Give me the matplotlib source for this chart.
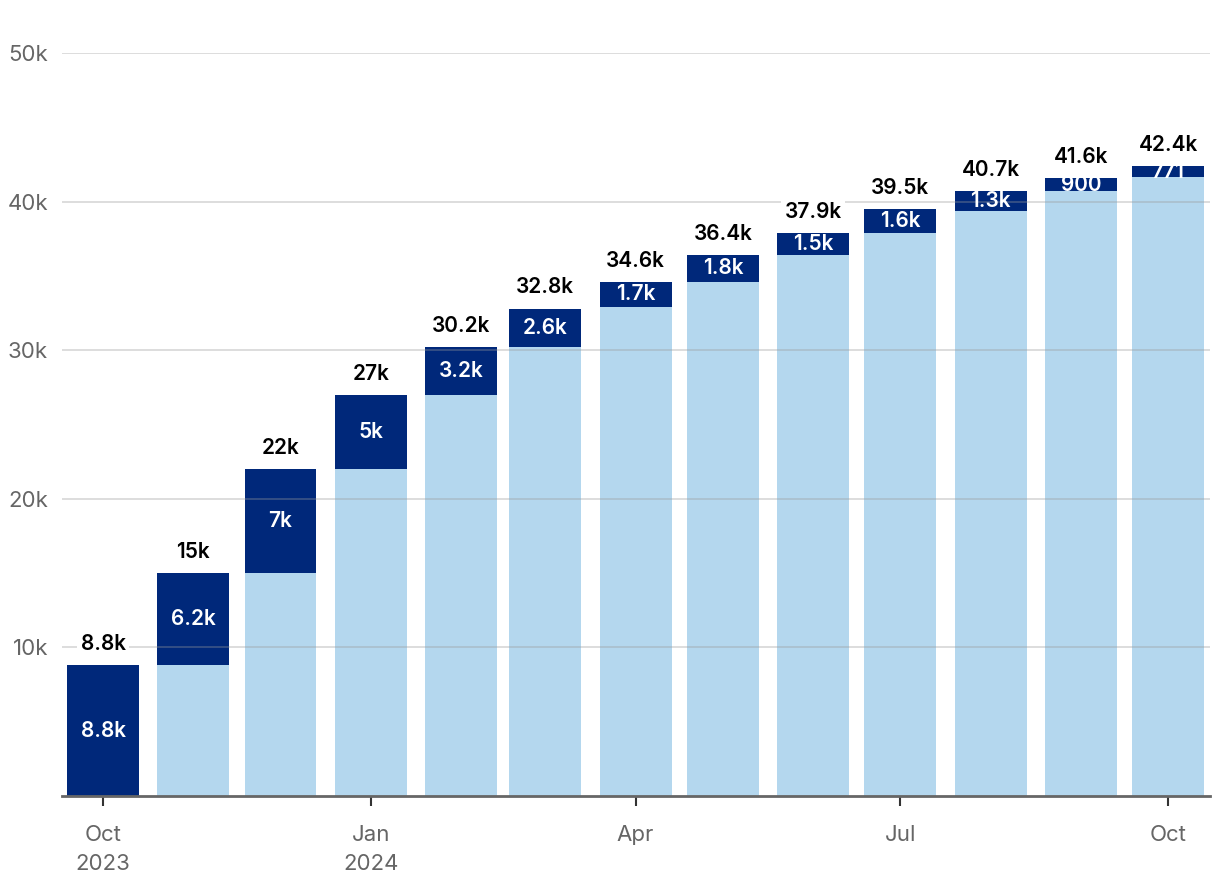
import datetime as dt

import matplotlib
matplotlib.use("Agg")
from matplotlib import pyplot as plt
import matplotlib.dates as mdates

months = ["2023-10-01", "2023-11-01", "2023-12-01", "2024-01-01", "2024-02-01",
          "2024-03-01", "2024-04-01", "2024-05-01", "2024-06-01", "2024-07-01",
          "2024-08-01", "2024-09-01", "2024-10-01"]
totals = [8800, 15000, 22000, 27000, 30200, 32800, 34600, 36400, 37900, 39500, 40700, 41600, 42400]
added = [8800, 6200, 7000, 5000, 3200, 2600, 1700, 1800, 1500, 1600, 1300, 900, 771]
total_labels = ["8.8k", "15k", "22k", "27k", "30.2k", "32.8k", "34.6k", "36.4k",
                "37.9k", "39.5k", "40.7k", "41.6k", "42.4k"]
added_labels = ["8.8k", "6.2k", "7k", "5k", "3.2k", "2.6k", "1.7k", "1.8k",
                "1.5k", "1.6k", "1.3k", "900", "771"]
tick_months = ["2023-10-01", "2024-01-01", "2024-04-01", "2024-07-01", "2024-10-01"]
tick_labels = ["Oct\n2023", "Jan\n2024", "Apr", "Jul", "Oct"]

navy = "#00287a"
light = "#b4d7ee"
grey = "#666666"

plt.rcParams["font.family"] = ["Inter", "DejaVu Sans"]

x = [mdates.date2num(dt.date.fromisoformat(m)) for m in months]
base = [t - a for t, a in zip(totals, added)]
base[0] = 0

fig = plt.figure(figsize=(12.2, 8.88), dpi=100)
ax = fig.add_axes([62 / 1220, 1 - 796 / 888, 1148 / 1220, (796 - 53) / 888])

width = 24.7
ax.bar(x[1:], base[1:], width=width, color=light, zorder=2)
ax.bar(x, added, bottom=base, width=width, color=navy, zorder=2)

for xi, b, a, lab in zip(x, base, added, added_labels):
    ax.text(xi, b + a / 2, lab, ha="center", va="center", color="white",
            fontsize=15, fontweight="semibold", zorder=4)

for xi, t, lab in zip(x, totals, total_labels):
    ax.annotate(lab, (xi, t), xytext=(0, 8), textcoords="offset points",
                ha="center", va="bottom", fontsize=15, fontweight="semibold",
                color="black", zorder=5,
                bbox=dict(boxstyle="square,pad=0.15", fc="white", ec="none"))

ax.set_xlim(x[0] - 14.1, x[-1] + 14.4)
ax.set_ylim(0, 50000)
ax.set_yticks([10000, 20000, 30000, 40000, 50000])
ax.set_yticklabels(["10k", "20k", "30k", "40k", "50k"])
ax.yaxis.grid(True, color="#999999", alpha=0.4, linewidth=1.2, zorder=3)
ax.set_axisbelow(False)

ax.set_xticks([mdates.date2num(dt.date.fromisoformat(m)) for m in tick_months])
ax.set_xticklabels(tick_labels)

for s in ["top", "right", "left"]:
    ax.spines[s].set_visible(False)
ax.spines["bottom"].set_color(grey)
ax.spines["bottom"].set_linewidth(2)
ax.spines["bottom"].set_zorder(6)

ax.tick_params(axis="y", length=0, pad=10, labelsize=16, labelcolor=grey)
ax.tick_params(axis="x", length=7, width=1.5, color="#333333", pad=14,
               labelsize=16, labelcolor=grey)
for lab in ax.get_xticklabels():
    lab.set_linespacing(1.55)

fig.savefig("out.png", dpi=100)
